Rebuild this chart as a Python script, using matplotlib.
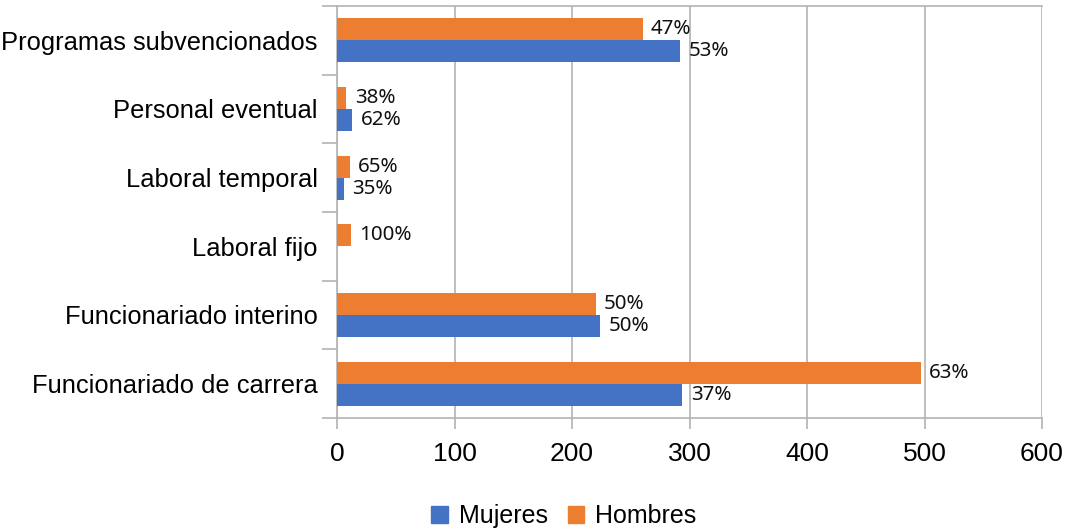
import matplotlib
matplotlib.use("Agg")
import matplotlib.pyplot as plt
import numpy as np
from matplotlib.patches import Patch

categories = ["Funcionariado de carrera", "Funcionariado interino", "Laboral fijo",
              "Laboral temporal", "Personal eventual", "Programas subvencionados"]
mujeres = [294, 224, 0, 6, 13, 292]
hombres = [497, 220, 12, 11, 8, 260]
mujeres_pct = ["37%", "50%", "", "35%", "62%", "53%"]
hombres_pct = ["63%", "50%", "100%", "65%", "38%", "47%"]
xticks = [0, 100, 200, 300, 400, 500, 600]

BLUE = "#4472C4"
ORANGE = "#ED7D31"
GRID = "#b3b3b3"

W, H = 1066, 532
fig = plt.figure(figsize=(W / 100, H / 100), dpi=100)
ax = fig.add_axes([337 / W, 1 - 418 / H, 705 / W, (418 - 6) / H])

plt.rcParams['font.family'] = ['Liberation Sans', 'DejaVu Sans']

y = np.arange(len(categories))
bh = 0.32
ax.barh(y - bh / 2, mujeres, height=bh, color=BLUE, zorder=3)
ax.barh(y + bh / 2, hombres, height=bh, color=ORANGE, zorder=3)

LBL = dict(va="center", ha="left", fontsize=14.8, family="Noto Sans", color="#111111")
for yi, v, t in zip(y, mujeres, mujeres_pct):
    if t:
        ax.annotate(t, (v, yi - bh / 2), xytext=(6, 0), textcoords="offset points", **LBL)
for yi, v, t in zip(y, hombres, hombres_pct):
    if t:
        ax.annotate(t, (v, yi + bh / 2), xytext=(6, 0), textcoords="offset points", **LBL)

ax.set_xlim(0, 600)
ax.set_ylim(-0.5, len(categories) - 0.5)
ax.set_xticks(xticks)
ax.set_xticklabels([str(x) for x in xticks], fontsize=19, family="Liberation Sans")
ax.set_yticks(y)
ax.set_yticklabels(categories, fontsize=18.4, family="Liberation Sans")
ax.set_yticks(np.arange(-0.5, len(categories)), minor=True)
ax.tick_params(axis="y", which="major", length=0, pad=14)
ax.tick_params(axis="y", which="minor", length=11, color=GRID, width=1.2)
ax.tick_params(axis="x", which="major", length=8, color=GRID, width=1.2, pad=9)

ax.grid(axis="x", color=GRID, linewidth=1.2, zorder=0)
for s in ["top", "bottom", "left"]:
    ax.spines[s].set_color(GRID)
    ax.spines[s].set_linewidth(1.2)
ax.spines["right"].set_visible(False)
ax.set_axisbelow(True)

handles = [Patch(color=BLUE, label="Mujeres"), Patch(color=ORANGE, label="Hombres")]
fig.legend(handles=handles, loc="center", bbox_to_anchor=(564 / W, 1 - 516 / H),
           ncol=2, frameon=False, handlelength=0.65, handleheight=0.65,
           handletextpad=0.45, columnspacing=0.8, prop={"family": "Liberation Sans", "size": 18})

fig.savefig("out.png", dpi=100)
